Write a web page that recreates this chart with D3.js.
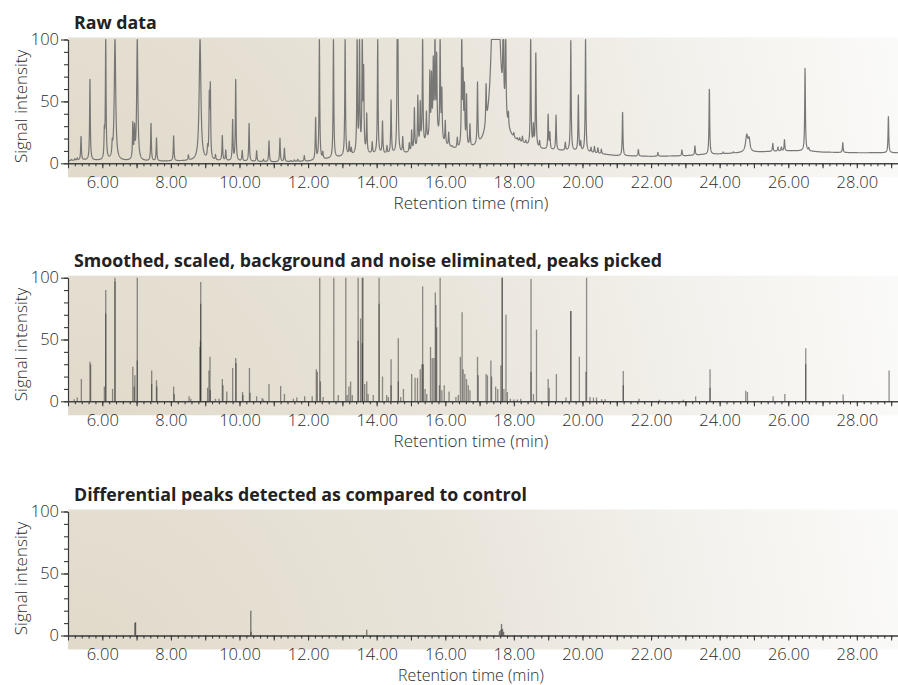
<!DOCTYPE html>
<html lang="en">
<head>
<meta charset="UTF-8">
<title>Chromatogram processing</title>
<script src="https://d3js.org/d3.v7.min.js"></script>
<style>
  body { margin: 0; background: #fff; }
  svg text { font-family: "Open Sans", sans-serif; fill: #2b2b2b; font-weight: 300; }
  .title { font-weight: 700; font-size: 17.8px; fill: #222; }
  .axis text { font-size: 16.5px; }
  .axis path, .axis line { stroke: #3a3a3a; stroke-width: 1.1; }
  .axis-title { font-size: 17px; }
</style>
</head>
<body>
<svg width="898" height="685"></svg>
<script>
// panel titles
const panelTitles = [
  "Raw data",
  "Smoothed, scaled, background and noise eliminated, peaks picked",
  "Differential peaks detected as compared to control"
];
const xTickLabels = [6, 8, 10, 12, 14, 16, 18, 20, 22, 24, 26, 28];
const yTickLabels = [0, 50, 100];

// raw trace: baseline level [time, intensity]
const rawBaseline = [
  [5.0, 2], [5.5, 2.5], [6.0, 2], [7.5, 1.5], [9.0, 2], [10.0, 1.5], [11.0, 1],
  [12.0, 1.5], [12.5, 3], [13.0, 5], [13.5, 7], [14.0, 7], [14.5, 7], [15.0, 8],
  [15.4, 14], [15.7, 22], [16.0, 13], [16.3, 10], [16.8, 9], [17.1, 8], [17.3, 8],
  [17.8, 14], [18.3, 13], [18.5, 11], [19.0, 10], [20.0, 9], [20.3, 8], [21.0, 6],
  [22.0, 5.5], [23.0, 6], [23.5, 7], [24.0, 7.5], [25.0, 9], [26.0, 10], [26.5, 10],
  [27.0, 9], [28.0, 8.5], [29.2, 8.5]
];

// raw trace: peaks [time, apex intensity, half width (min)]
const rawPeaks = [
  [5.1, 3], [5.2, 3.5], [5.27, 4], [5.38, 21.5], [5.64, 68],
  [6.06, 22], [6.1, 100], [6.29, 11], [6.37, 100, 0.025],
  [6.89, 30], [6.94, 25], [7.02, 100, 0.02], [7.42, 32], [7.58, 20],
  [8.08, 22], [8.51, 6], [8.85, 100, 0.03],
  [9.07, 10], [9.12, 50], [9.15, 58], [9.3, 6], [9.5, 22], [9.6, 10],
  [9.8, 34], [9.89, 67], [10.08, 10], [10.28, 32], [10.5, 10], [10.7, 3],
  [10.86, 18], [11.18, 20], [11.31, 12], [11.5, 2], [11.6, 2.5], [11.7, 3], [11.89, 6],
  [12.22, 36], [12.33, 100], [12.43, 8], [12.74, 100], [13.08, 100],
  [13.2, 16], [13.26, 11], [13.43, 100], [13.5, 100], [13.58, 100], [13.62, 70],
  [13.71, 38], [13.87, 16], [14.03, 100], [14.17, 33], [14.3, 13], [14.42, 50],
  [14.6, 100], [14.62, 77], [14.76, 20], [14.95, 15], [15.02, 25], [15.1, 43],
  [15.2, 52], [15.27, 46], [15.34, 100], [15.45, 39], [15.55, 70], [15.6, 66],
  [15.65, 77], [15.7, 100], [15.75, 82], [15.85, 100], [15.9, 55], [16.0, 32],
  [16.1, 23], [16.2, 12], [16.35, 18], [16.48, 100], [16.52, 63], [16.56, 55],
  [16.62, 50], [16.72, 27], [16.94, 58], [17.19, 40], [17.47, 300, 0.085],
  [17.69, 100], [17.76, 100], [17.84, 25], [18.0, 17], [18.1, 15], [18.17, 16],
  [18.25, 18], [18.35, 15], [18.49, 100], [18.57, 27], [18.64, 87], [18.75, 16],
  [19.0, 38], [19.05, 23], [19.23, 38], [19.5, 16], [19.66, 99], [19.88, 54],
  [19.95, 16], [20.09, 100], [20.25, 12], [20.35, 13], [20.45, 12], [20.55, 11],
  [21.17, 41], [21.63, 11], [22.2, 8.6], [22.9, 10.7], [23.28, 14], [23.7, 60],
  [24.1, 9], [24.4, 9], [24.79, 22, 0.04], [24.86, 18, 0.03], [25.55, 16],
  [25.7, 13], [25.8, 13], [25.89, 19], [26.49, 77], [26.6, 12], [27.59, 16.6],
  [28.92, 38]
];

// picked peaks after smoothing / scaling [time, intensity]
const pickedPeaks = [
  [5.18, 1.6], [5.27, 3], [5.39, 18], [5.64, 32], [5.66, 30],
  [6.06, 12], [6.1, 90], [6.1, 71], [6.3, 10], [6.37, 100], [6.37, 97],
  [6.89, 28], [6.93, 12], [6.95, 21], [7.02, 100], [7.02, 33],
  [7.44, 25], [7.44, 14], [7.58, 17], [7.59, 12],
  [8.08, 12], [8.1, 6], [8.53, 4], [8.58, 2],
  [8.87, 96.5], [8.87, 79], [8.86, 49], [8.85, 44],
  [9.07, 11], [9.11, 25], [9.14, 36], [9.15, 9], [9.3, 2], [9.4, 2],
  [9.5, 18], [9.52, 13], [9.63, 8], [9.8, 27], [9.89, 35], [9.9, 31],
  [10.09, 7.5], [10.1, 5], [10.29, 27], [10.31, 7], [10.5, 4], [10.66, 2.7], [10.7, 1.6],
  [10.86, 14], [11.2, 12.4], [11.31, 6], [11.57, 2], [11.67, 3], [11.9, 4],
  [12.12, 4], [12.24, 26], [12.27, 24], [12.34, 100], [12.36, 16], [12.44, 3.5],
  [12.75, 100], [12.88, 5],
  [13.1, 100], [13.14, 5], [13.19, 12], [13.24, 16], [13.29, 5],
  [13.46, 100], [13.46, 49], [13.53, 67], [13.58, 100], [13.6, 100], [13.58, 47],
  [13.65, 14], [13.71, 16], [13.75, 6], [13.9, 5],
  [14.07, 100], [14.07, 79], [14.17, 20], [14.29, 5], [14.34, 3.5], [14.42, 34], [14.42, 13],
  [14.63, 51], [14.63, 16], [14.7, 3.5], [14.78, 10],
  [15.02, 22], [15.12, 19], [15.19, 19], [15.27, 26], [15.32, 30], [15.34, 93], [15.36, 30],
  [15.41, 10], [15.46, 6], [15.57, 44], [15.62, 35], [15.67, 35], [15.71, 88], [15.73, 78],
  [15.75, 60], [15.85, 100], [15.83, 13], [15.9, 9], [15.97, 13], [16.11, 8],
  [16.31, 3.5], [16.38, 5], [16.44, 36], [16.49, 72], [16.52, 26], [16.57, 22],
  [16.62, 18], [16.67, 13], [16.72, 9],
  [16.94, 36], [16.96, 21], [17.19, 22], [17.23, 21], [17.33, 33], [17.35, 20],
  [17.47, 12], [17.53, 10], [17.62, 29], [17.66, 100], [17.66, 100], [17.71, 10],
  [17.77, 70], [17.81, 7.5], [17.9, 2], [18.0, 1.5], [18.1, 1.5], [18.2, 2],
  [18.5, 99], [18.5, 24], [18.57, 6], [18.66, 58],
  [19.0, 18], [19.03, 11], [19.24, 22], [19.52, 3], [19.66, 73], [19.66, 73],
  [19.91, 36], [20.12, 100], [20.1, 24],
  [20.22, 3.5], [20.32, 3], [20.41, 3], [20.56, 1.6], [20.66, 1.6],
  [21.19, 24.5], [21.19, 13], [21.65, 2], [22.24, 1.3], [22.94, 1.3], [23.3, 4],
  [23.72, 26], [23.72, 11], [24.76, 8.6], [24.81, 7.5], [25.56, 4], [25.9, 6],
  [26.51, 43], [26.51, 30], [27.6, 5.5], [28.94, 25]
];

// differential peaks vs control [time, intensity]
const diffPeaks = [
  [6.95, 10], [6.97, 10.8], [10.33, 20], [10.34, 3], [13.71, 4.6],
  [17.58, 3.5], [17.62, 4.6], [17.64, 9.4], [17.67, 5.4], [17.7, 3]
];

const svg = d3.select("svg");

// layout: y of the 100 line and 0 line for each panel, axis title baseline
const panels = [
  { top: 39.5, bottom: 163.3, titleY: 209, titleSize: 17 },
  { top: 277.7, bottom: 401.3, titleY: 447, titleSize: 17 },
  { top: 511.5, bottom: 635.5, titleY: 681, titleSize: 16 }
];

const x = d3.scaleLinear().domain([5, 29.2]).range([68, 898]);

const defs = svg.append("defs");

panels.forEach((p, i) => {
  const y = d3.scaleLinear().domain([0, 100]).range([p.bottom, p.top]);
  p.y = y;

  // beige background fading to white
  const grad = defs.append("radialGradient")
    .attr("id", "bg" + i)
    .attr("gradientUnits", "userSpaceOnUse")
    .attr("cx", 60).attr("cy", p.bottom + 60).attr("r", 900);
  grad.append("stop").attr("offset", 0).attr("stop-color", "#e0d9c9");
  grad.append("stop").attr("offset", 0.45).attr("stop-color", "#e9e4da");
  grad.append("stop").attr("offset", 0.72).attr("stop-color", "#f3f1ec");
  grad.append("stop").attr("offset", 1).attr("stop-color", "#fcfcfb");

  svg.append("rect")
    .attr("x", x(5)).attr("y", p.top - 2)
    .attr("width", 898 - x(5)).attr("height", p.bottom - p.top + 16)
    .attr("fill", "url(#bg" + i + ")");

  svg.append("text")
    .attr("class", "title")
    .attr("x", 74).attr("y", p.top - 11)
    .text(panelTitles[i]);
});

// raw trace built from the read peaks on top of the baseline
const base = d3.scaleLinear()
  .domain(rawBaseline.map(d => d[0]))
  .range(rawBaseline.map(d => d[1]))
  .clamp(true);
const amps = rawPeaks.map(d => [d[0], Math.max(0, d[1] - base(d[0])), d[2] || 0.012]);
const grid = d3.range(5, 29.2, 0.003);
const trace = grid.map(t => {
  let v = base(t);
  amps.forEach(([t0, a, w]) => {
    const u = (t - t0) / w;
    v += a / (1 + u * u);
  });
  return [t, Math.min(100, v)];
});

const y0 = panels[0].y;
svg.append("path")
  .datum(trace)
  .attr("fill", "none")
  .attr("stroke", "#6a6a6a")
  .attr("stroke-width", 1.2)
  .attr("stroke-opacity", 0.9)
  .attr("stroke-linejoin", "round")
  .attr("d", d3.line().x(d => x(d[0])).y(d => y0(d[1])));

// stick plots
function sticks(data, y, colour, opacity) {
  svg.append("g")
    .selectAll("line")
    .data(data)
    .join("line")
    .attr("x1", d => x(d[0])).attr("x2", d => x(d[0]))
    .attr("y1", y(0)).attr("y2", d => y(d[1]))
    .attr("stroke", colour)
    .attr("stroke-width", 1.3)
    .attr("stroke-opacity", opacity);
}
sticks(pickedPeaks, panels[1].y, "#2a2a2a", 0.5);
sticks(diffPeaks, panels[2].y, "#2a2a2a", 0.6);

// axes
panels.forEach((p, i) => {
  const y = p.y;

  svg.append("g")
    .attr("class", "axis")
    .attr("transform", "translate(0," + p.bottom + ")")
    .call(d3.axisBottom(x)
      .tickValues(d3.range(5.2, 29.1, 0.2))
      .tickSize(3).tickSizeOuter(0).tickFormat(""));

  svg.append("g")
    .attr("class", "axis")
    .attr("transform", "translate(0," + p.bottom + ")")
    .call(d3.axisBottom(x)
      .tickValues(d3.range(5, 30, 1))
      .tickSize(5).tickSizeOuter(0).tickPadding(7.5)
      .tickFormat(d => xTickLabels.includes(d) ? d.toFixed(2) : ""));

  svg.append("g")
    .attr("class", "axis")
    .attr("transform", "translate(" + x(5) + ",0)")
    .call(d3.axisLeft(y).tickValues(d3.range(0, 101, 10))
      .tickSize(4).tickSizeOuter(0).tickFormat(""));

  svg.append("g")
    .attr("class", "axis")
    .attr("transform", "translate(" + x(5) + ",0)")
    .call(d3.axisLeft(y).tickValues(yTickLabels)
      .tickSize(7).tickSizeOuter(0).tickPadding(2));

  svg.append("text")
    .attr("class", "axis-title")
    .attr("text-anchor", "middle")
    .style("font-size", p.titleSize + "px")
    .attr("x", 471).attr("y", p.titleY)
    .text("Retention time (min)");

  svg.append("text")
    .attr("class", "axis-title")
    .attr("text-anchor", "middle")
    .attr("transform", "translate(27," + ((p.top + p.bottom) / 2 + 5) + ") rotate(-90)")
    .text("Signal intensity");
});
</script>
</body>
</html>
